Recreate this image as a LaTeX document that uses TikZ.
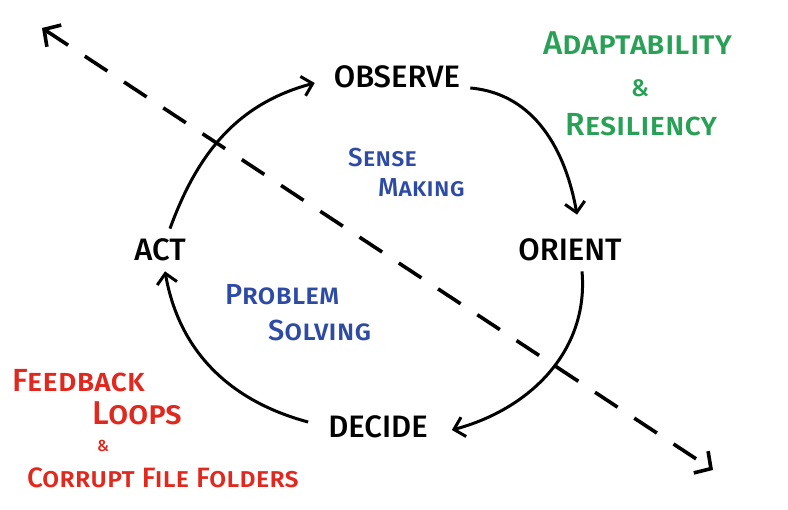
\documentclass[tikz,border=0pt]{standalone}
\usepackage{fontspec}
\setmainfont{Fira Sans}[BoldFont = {Fira Sans Medium}]
\usetikzlibrary{arrows.meta}

\definecolor{boardgreen}{RGB}{40,160,85}
\definecolor{boardblue}{RGB}{45,75,165}
\definecolor{boardred}{RGB}{225,40,30}

\begin{document}
\begin{tikzpicture}[x = 1pt, y = 1pt,
		phase/.style = {font = \fontsize{31}{31}\selectfont\bfseries, inner sep = 10pt},
		note/.style = {font = \fontsize{#1}{#1}\selectfont\bfseries\scshape, inner sep = 0pt, anchor = west},
		note/.default = 26,
		cycle arrow/.style = {line width = 3pt, -{Straight Barb[length = 10pt, width = 20pt, line width = 3pt]}}]

		\useasboundingbox (0, 0) rectangle (788, 510);

		% the diagonal
		\coordinate (upleft) at (42, 482);
		\coordinate (downright) at (713, 40);
		\draw[line width = 3.6pt, dash pattern = on 27pt off 20pt,
			{Straight Barb[length = 12pt, width = 26pt, line width = 3.6pt]}-{Straight Barb[length = 12pt, width = 26pt, line width = 3.6pt]}]
			(upleft) -- (downright);

		% the four phases
		\node[phase] (observe) at (397, 433) {OBSERVE};
		\node[phase] (orient) at (570, 260) {ORIENT};
		\node[phase] (decide) at (378, 83) {DECIDE};
		\node[phase] (act) at (160, 260) {ACT};

		\draw[cycle arrow] ([shift = {(0, -11)}]observe.east) to[out = -5, in = 100] ([shift = {(7, 14)}]orient.north);
		\draw[cycle arrow] ([shift = {(12, 0)}]orient.south) to[out = -85, in = 15] ([shift = {(14, -3)}]decide.east);
		\draw[cycle arrow] ([shift = {(-10, 5)}]decide.west) to[out = 165, in = -80] ([shift = {(5, 0)}]act.south);
		\draw[cycle arrow] ([shift = {(10, 0)}]act.north) to[out = 70, in = 195] ([shift = {(-9, -6)}]observe.west);

		% inside the loop
		\node[note, boardblue] (sense) at (348, 352) {Sense};
		\node[note, boardblue] (making) at (378, 322) {Making};
		\node[note = 29, boardblue] (problem) at (225, 215) {Problem};
		\node[note = 29, boardblue] (solving) at (268, 180) {Solving};

		% outside the loop
		\node[note = 33, boardgreen] (adapt) at (543, 467) {Adaptability};
		\node[note = 24, boardgreen, anchor = center] (greenand) at (640, 422) {\&};
		\node[note = 32, boardgreen] (resil) at (565, 385) {Resiliency};

		\node[note = 32, boardred] (feedback) at (12, 129) {Feedback};
		\node[note = 33, boardred] (loops) at (92, 97) {Loops};
		\node[note = 16, boardred, anchor = center] (redand) at (103, 64) {\&};
		\node[note = 28, boardred] (corrupt) at (27, 32) {Corrupt File Folders};

	\end{tikzpicture}
\end{document}
